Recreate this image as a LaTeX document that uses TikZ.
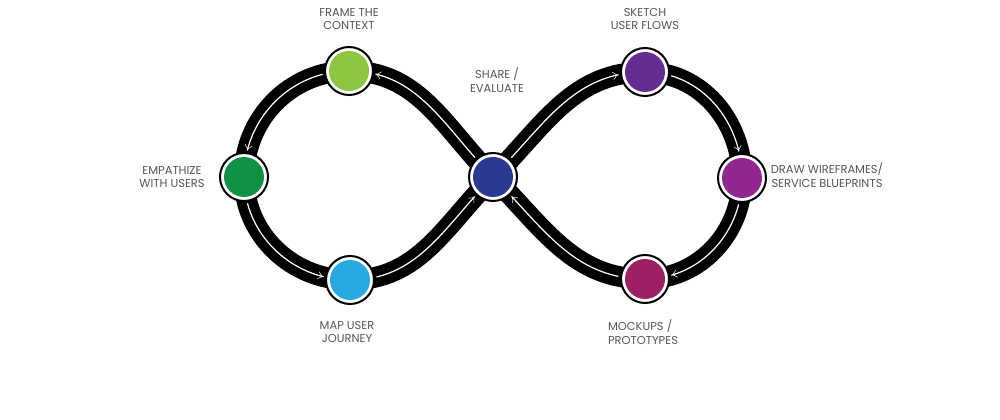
\documentclass[tikz,border=0pt]{standalone}
\usepackage{fontspec}
\setmainfont{Poppins}
\usetikzlibrary{arrows.meta,decorations.markings,decorations.pathmorphing}
\pgfdeclarelayer{bg}
\pgfsetlayers{bg,main}
\definecolor{cFrame}{HTML}{8DC63F}
\definecolor{cEmpath}{HTML}{0F9246}
\definecolor{cMap}{HTML}{27AAE1}
\definecolor{cShare}{HTML}{2B3990}
\definecolor{cSketch}{HTML}{662D91}
\definecolor{cDraw}{HTML}{92278F}
\definecolor{cMock}{HTML}{9E1F63}
\definecolor{txt}{HTML}{555555}
\begin{document}
\begin{tikzpicture}[x=0.75pt,y=0.75pt,
  stage/.style={circle, draw=black, line width=1.5pt, fill=white,
    minimum size=36pt, inner sep=0pt, outer sep=0pt,
    path picture={\fill[#1] (path picture bounding box.center) circle[radius=15pt];}},
  band/.style={line width=15.5pt, black},
  flowline/.style={draw=white, line width=0.9pt, decorate,
    decoration={curveto, pre=moveto, pre length=20pt, post=moveto, post length=20pt}},
  flowtip/.style={line width=0.9pt, decorate,
    decoration={markings, mark=at position -20.5pt with
      {\arrow[white]{Straight Barb[length=3pt,width=5.5pt]}}}},
  lbl/.style={text=txt, align=center, inner sep=0pt,
    font=\fontsize{8.6}{10.2}\selectfont}
]
\useasboundingbox (0,0) rectangle (1000,-420);

\node[stage=cFrame]  (frame)  at (349,-71)  {};
\node[stage=cEmpath] (empath) at (244,-177) {};
\node[stage=cMap]    (map)    at (350,-280) {};
\node[stage=cShare]  (share)  at (493,-177) {};
\node[stage=cSketch] (sketch) at (645,-72)  {};
\node[stage=cDraw]   (draw)   at (742,-178) {};
\node[stage=cMock]   (mock)   at (645,-279) {};

\begin{pgfonlayer}{bg}
\foreach \a/\oa/\ia/\b in {share/135/0/frame, frame/180/90/empath, empath/270/180/map,
    map/0/225/share, share/45/180/sketch, sketch/0/90/draw, draw/270/0/mock, mock/180/315/share}{
  \draw[band] (\a.center) to[out=\oa,in=\ia] (\b.center);
}
\foreach \a/\oa/\ia/\b in {share/135/0/frame, frame/180/90/empath, empath/270/180/map,
    map/0/225/share, share/45/180/sketch, sketch/0/90/draw, draw/270/0/mock, mock/180/315/share}{
  \path[flowline] (\a.center) to[out=\oa,in=\ia] (\b.center);
  \path[flowtip] (\a.center) to[out=\oa,in=\ia] (\b.center);
}
\end{pgfonlayer}

\node[lbl] (lframe)  at (349,-19)  {FRAME THE\\CONTEXT};
\node[lbl] (lshare)  at (497,-80)  {SHARE /\\EVALUATE};
\node[lbl] (lsketch) at (645,-19)  {SKETCH\\USER FLOWS};
\node[lbl] (lempath) at (172,-177) {EMPATHIZE\\WITH USERS};
\node[lbl] (ldraw)   at (827,-175) {DRAW WIREFRAMES/\\SERVICE BLUEPRINTS};
\node[lbl] (lmap)    at (347,-332) {MAP USER\\JOURNEY};
\node[lbl, align=left] (lmock) at (643,-332) {MOCKUPS /\\PROTOTYPES};
\end{tikzpicture}
\end{document}
